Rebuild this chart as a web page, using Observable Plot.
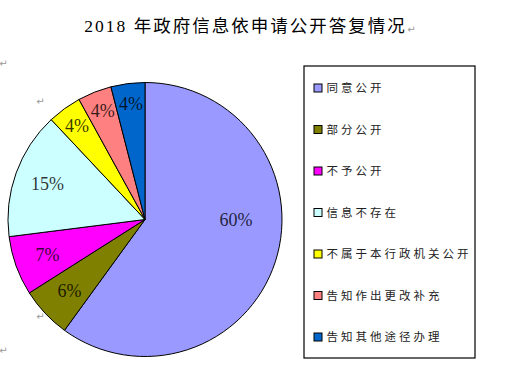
<!DOCTYPE html>
<html>
<head>
<meta charset="utf-8">
<script src="https://cdn.jsdelivr.net/npm/d3@7"></script>
<script src="https://cdn.jsdelivr.net/npm/@observablehq/plot@0.6"></script>
<style>
  html, body { margin: 0; padding: 0; background: #fff; }
  #chart svg { display: block; }
</style>
</head>
<body>
<div id="chart"></div>
<script>
// ---- data ----
const categories = ["同意公开", "部分公开", "不予公开", "信息不存在", "不属于本行政机关公开", "告知作出更改补充", "告知其他途径办理"];
const shares = [60, 6, 7, 15, 4, 4, 4];
const labels = ["60%", "6%", "7%", "15%", "4%", "4%", "4%"];
const colors = ["#9999FF", "#808000", "#FF00FF", "#CCFFFF", "#FFFF00", "#FF8080", "#0066CC"];
const title = "2018 年政府信息依申请公开答复情况";

// ---- layout ----
const W = 507, H = 371;
const pie = {cx: 145, cy: 219.5, r: 137};
const legendBox = {x1: 304, x2: 475, y1: 66, y2: 358};
const legendRow0 = 88, legendStep = 41.5;

const table = categories.map((c, i) => ({category: c, value: shares[i], label: labels[i], color: colors[i], i}));
const arcs = d3.pie().sort(null).value(d => d.value)(table);

// label anchor along bisector (largest slice label sits on the horizontal)
const labelPts = arcs.map((a, i) => {
  let ang = (a.startAngle + a.endAngle) / 2;
  let rr = a.data.value < 5 ? 0.85 : 0.76;
  if (i === 0) { ang = Math.PI / 2; rr = 0.66; }
  return {label: a.data.label, color: a.data.color,
          x: pie.cx + Math.sin(ang) * pie.r * rr,
          y: pie.cy - Math.cos(ang) * pie.r * rr};
});

const pieMark = (index, scales) => {
  const x = scales.x, y = scales.y;
  const g = d3.create("svg:g");
  const cx = x(pie.cx), cy = y(pie.cy);
  const rad = x(pie.cx + pie.r) - cx;
  const arc = d3.arc().innerRadius(0).outerRadius(rad);
  g.attr("transform", `translate(${cx},${cy})`)
    .selectAll("path").data(arcs).join("path")
      .attr("d", arc)
      .attr("fill", d => d.data.color)
      .attr("stroke", "#000")
      .attr("stroke-width", 1)
      .attr("stroke-linejoin", "round");
  return g.node();
};

const legendItems = table.map((d, i) => ({...d, y: legendRow0 + i * legendStep}));
const returns = [
  {x: 411, y: 29}, {x: 3, y: 63}, {x: 40, y: 101}, {x: 40, y: 316}, {x: 3, y: 350}
];

const chart = Plot.plot({
  width: W, height: H,
  margin: 0,
  x: {domain: [0, W], range: [0, W], axis: null},
  y: {domain: [0, H], range: [0, H], axis: null},
  style: {background: "#fff"},
  marks: [
    Plot.text([title], {x: () => 245, y: () => 26, text: d => d, fontSize: 17.5,
      fontFamily: "'Liberation Serif', 'Noto Sans CJK SC', serif", fill: "#000", textAnchor: "middle"}),
    pieMark,
    Plot.text(labelPts, {x: "x", y: "y", text: "label", fontSize: 18,
      fontFamily: "'Liberation Serif', 'Times New Roman', serif", fill: "#000", fillOpacity: 0.8}),
    Plot.rect([legendBox], {x1: "x1", x2: "x2", y1: "y1", y2: "y2", fill: "none", stroke: "#000", strokeWidth: 1.2}),
    Plot.rect(legendItems, {x1: () => 314, x2: () => 322, y1: d => d.y - 4, y2: d => d.y + 4,
      fill: "color", stroke: "#000", strokeWidth: 1}),
    Plot.text(legendItems, {x: () => 326, y: "y", text: "category", textAnchor: "start",
      fontSize: 11.5, fontFamily: "'Noto Sans CJK SC', sans-serif", fill: "#222"}),
    Plot.text(returns, {x: "x", y: "y", text: () => "↵", fontSize: 10, fill: "#999",
      fontFamily: "'DejaVu Sans', sans-serif"})
  ]
});
// letter spacing (Word-style spaced text)
d3.select(chart).selectAll("text").each(function() {
  const t = this.textContent;
  if (t === title) d3.select(this).attr("letter-spacing", "2px");
  else if (categories.includes(t)) d3.select(this).attr("letter-spacing", "3px");
});
document.getElementById("chart").append(chart);
</script>
</body>
</html>
